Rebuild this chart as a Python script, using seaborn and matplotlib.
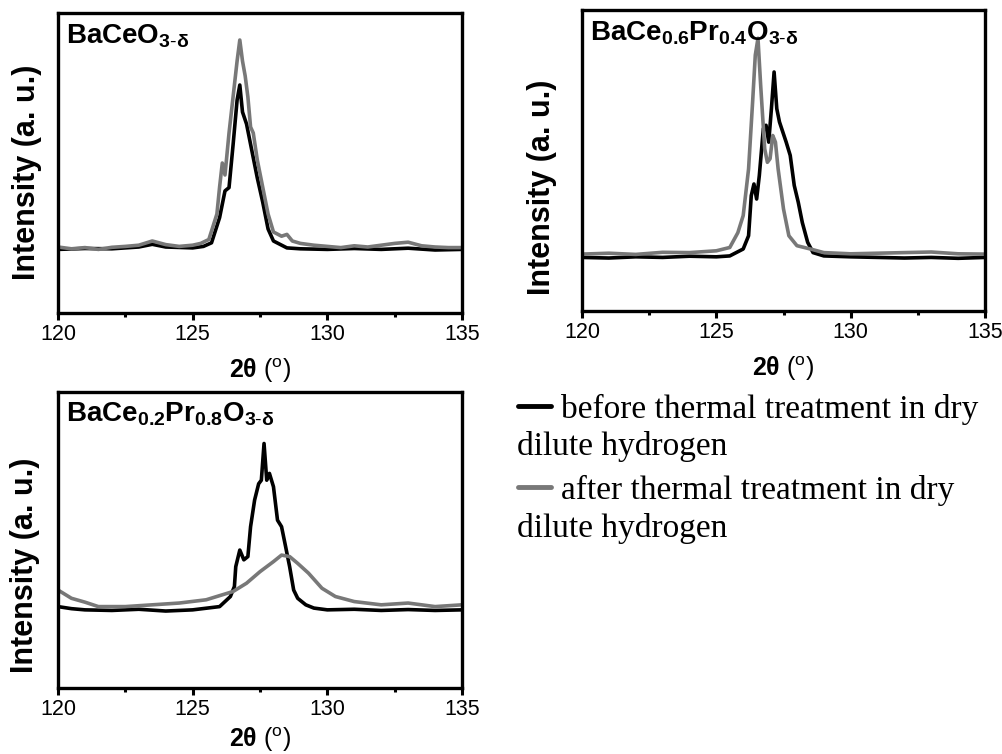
import matplotlib
matplotlib.use('Agg')
import matplotlib.pyplot as plt
import seaborn as sns
from matplotlib.lines import Line2D

sns.set_style('ticks')
plt.rcParams['font.family'] = ['Liberation Sans', 'DejaVu Sans']
plt.rcParams['mathtext.fontset'] = 'custom'
plt.rcParams['mathtext.rm'] = 'Liberation Sans'
plt.rcParams['mathtext.bf'] = 'Liberation Sans:bold'
plt.rcParams['mathtext.it'] = 'Liberation Sans:italic'
plt.rcParams['axes.edgecolor'] = 'black'
plt.rcParams['xtick.color'] = 'black'
plt.rcParams['text.color'] = 'black'
plt.rcParams['axes.labelcolor'] = 'black'

# BaCeO3-d
x_a_before = [120, 121, 122, 123, 123.5, 124, 125, 125.4, 125.7, 126.0, 126.2, 126.35, 126.5, 126.65, 126.75,
              126.85, 127.0, 127.2, 127.4, 127.6, 127.8, 128.0, 128.5, 129, 130, 131, 132, 133, 134, 135]
y_a_before = [0.212, 0.215, 0.214, 0.220, 0.229, 0.220, 0.217, 0.222, 0.234, 0.318, 0.407, 0.418, 0.560, 0.710, 0.760,
              0.670, 0.630, 0.540, 0.450, 0.370, 0.280, 0.240, 0.217, 0.214, 0.212, 0.215, 0.212, 0.216, 0.210, 0.212]
x_a_after = [120, 120.5, 121, 121.5, 122, 122.5, 123, 123.5, 124, 124.5, 125, 125.3, 125.6, 125.9, 126.0, 126.1,
             126.2, 126.35, 126.5, 126.65, 126.75, 126.85, 126.95, 127.05, 127.15, 127.25, 127.4, 127.6, 127.8,
             128.0, 128.3, 128.5, 128.7, 129, 129.5, 130, 130.5, 131, 131.5, 132, 132.5, 133, 133.5, 134, 134.5, 135]
y_a_after = [0.220, 0.214, 0.218, 0.212, 0.219, 0.222, 0.226, 0.240, 0.228, 0.222, 0.226, 0.232, 0.245, 0.330,
             0.420, 0.500, 0.460, 0.600, 0.720, 0.840, 0.910, 0.840, 0.790, 0.720, 0.620, 0.600, 0.510, 0.420,
             0.330, 0.270, 0.256, 0.262, 0.240, 0.232, 0.226, 0.222, 0.218, 0.224, 0.220, 0.226, 0.232, 0.236,
             0.224, 0.220, 0.218, 0.218]

# BaCe0.6Pr0.4O3-d
x_b_before = [120, 121, 122, 123, 124, 125, 125.5, 126.0, 126.2, 126.3, 126.4, 126.5, 126.6, 126.75, 126.85,
              126.95, 127.05, 127.15, 127.25, 127.35, 127.6, 127.75, 127.9, 128.05, 128.2, 128.4, 128.6, 129,
              130, 131, 132, 133, 134, 135]
y_b_before = [0.178, 0.176, 0.180, 0.178, 0.182, 0.180, 0.183, 0.206, 0.250, 0.383, 0.422, 0.372, 0.450, 0.606,
              0.617, 0.561, 0.672, 0.794, 0.672, 0.628, 0.561, 0.517, 0.417, 0.361, 0.294, 0.228, 0.194, 0.183,
              0.180, 0.178, 0.176, 0.178, 0.175, 0.178]
x_b_after = [120, 121, 122, 123, 124, 125, 125.5, 125.8, 126.0, 126.2, 126.35, 126.45, 126.55, 126.65, 126.8,
             126.9, 127.0, 127.1, 127.2, 127.3, 127.5, 127.7, 128.0, 128.5, 129, 130, 131, 132, 133, 134, 135]
y_b_after = [0.189, 0.192, 0.188, 0.195, 0.194, 0.200, 0.211, 0.260, 0.317, 0.472, 0.694, 0.850, 0.906, 0.750,
             0.539, 0.494, 0.506, 0.583, 0.561, 0.472, 0.339, 0.250, 0.217, 0.206, 0.194, 0.190, 0.192, 0.194,
             0.196, 0.190, 0.189]

# BaCe0.2Pr0.8O3-d
x_c_before = [120, 120.5, 121, 122, 123, 124, 125, 126.0, 126.4, 126.55, 126.6, 126.75, 126.9, 127.05, 127.15,
              127.3, 127.45, 127.55, 127.65, 127.75, 127.85, 128.0, 128.15, 128.3, 128.45, 128.6, 128.75, 128.9,
              129.2, 129.5, 130, 131, 132, 133, 134, 135]
y_c_before = [0.275, 0.268, 0.264, 0.262, 0.266, 0.260, 0.264, 0.275, 0.309, 0.343, 0.410, 0.466, 0.433, 0.444,
              0.545, 0.635, 0.690, 0.702, 0.826, 0.702, 0.725, 0.680, 0.567, 0.545, 0.478, 0.410, 0.331, 0.303,
              0.281, 0.270, 0.264, 0.266, 0.262, 0.265, 0.262, 0.264]
x_c_after = [120, 120.5, 121, 121.5, 122.5, 123.5, 124.5, 125.5, 126.5, 127, 127.5, 128.0, 128.3, 128.6, 128.9,
             129.3, 129.8, 130.3, 131, 132, 133, 134, 135]
y_c_after = [0.331, 0.303, 0.290, 0.275, 0.275, 0.281, 0.287, 0.298, 0.326, 0.354, 0.393, 0.427, 0.449, 0.444,
             0.421, 0.388, 0.337, 0.309, 0.292, 0.281, 0.287, 0.275, 0.281]

titles = [r'$\mathbf{BaCeO_{3\text{-}\delta}}$',
          r'$\mathbf{BaCe_{0.6}Pr_{0.4}O_{3\text{-}\delta}}$',
          r'$\mathbf{BaCe_{0.2}Pr_{0.8}O_{3\text{-}\delta}}$']
legend_first = ['before thermal treatment in dry', 'after thermal treatment in dry']
legend_second = 'dilute hydrogen'

c_before = '#000000'
c_after = '#787878'

fig = plt.figure(figsize=(10.03, 7.54), dpi=100)
rects = [[58/1003, 1-313/754, 404/1003, 300/754],
         [582/1003, 1-311/754, 403/1003, 301/754],
         [58/1003, 1-688/754, 404/1003, 296/754]]
ylabel_pos = [(-0.04, 0.47), (-0.062, 0.412), (-0.045, 0.416)]
xlabel_pad = [8, 8, 4]
data = [(x_a_before, y_a_before, x_a_after, y_a_after),
        (x_b_before, y_b_before, x_b_after, y_b_after),
        (x_c_before, y_c_before, x_c_after, y_c_after)]

for r, (xb, yb, xa, ya), t, lp, xp in zip(rects, data, titles, ylabel_pos, xlabel_pad):
    ax = fig.add_axes(r)
    sns.lineplot(x=xb, y=yb, color=c_before, lw=2.6, ax=ax)
    sns.lineplot(x=xa, y=ya, color=c_after, lw=2.6, ax=ax)
    ax.set_xlim(120, 135)
    ax.set_ylim(0, 1)
    ax.set_xticks([120, 125, 130, 135])
    ax.set_xticks([122.5, 127.5, 132.5], minor=True)
    ax.set_yticks([])
    ax.tick_params(axis='x', which='major', direction='out', length=5, width=2.2, labelsize=15.5, pad=3)
    ax.tick_params(axis='x', which='minor', direction='out', length=3, width=2.2)
    for s in ax.spines.values():
        s.set_linewidth(2.4)
        s.set_visible(True)
        s.set_color('black')
    ax.set_ylabel('Intensity (a. u.)', fontsize=22, fontweight='bold')
    ax.yaxis.set_label_coords(*lp)
    ax.set_xlabel(r'$\mathbf{2\theta}$ ($^{\mathrm{o}}$)', fontsize=18, labelpad=xp)
    ax.text(0.02, 0.97, t, transform=ax.transAxes, fontsize=20, va='top', ha='left')

handles = [Line2D([], [], color=c_before, lw=3.5), Line2D([], [], color=c_after, lw=3.5)]
fig.legend(handles, legend_first, loc='upper left', bbox_to_anchor=(518/1003, 1-394/754),
           frameon=False, handlelength=1.0, handletextpad=0.3, labelspacing=1.5,
           prop={'family': 'Liberation Serif', 'size': 24}, borderaxespad=0, borderpad=0)
fig.text(517/1003, 1-455/754, legend_second, fontsize=24, family='Liberation Serif', va='baseline')
fig.text(517/1003, 1-537/754, legend_second, fontsize=24, family='Liberation Serif', va='baseline')

fig.savefig('out.png', dpi=100)
